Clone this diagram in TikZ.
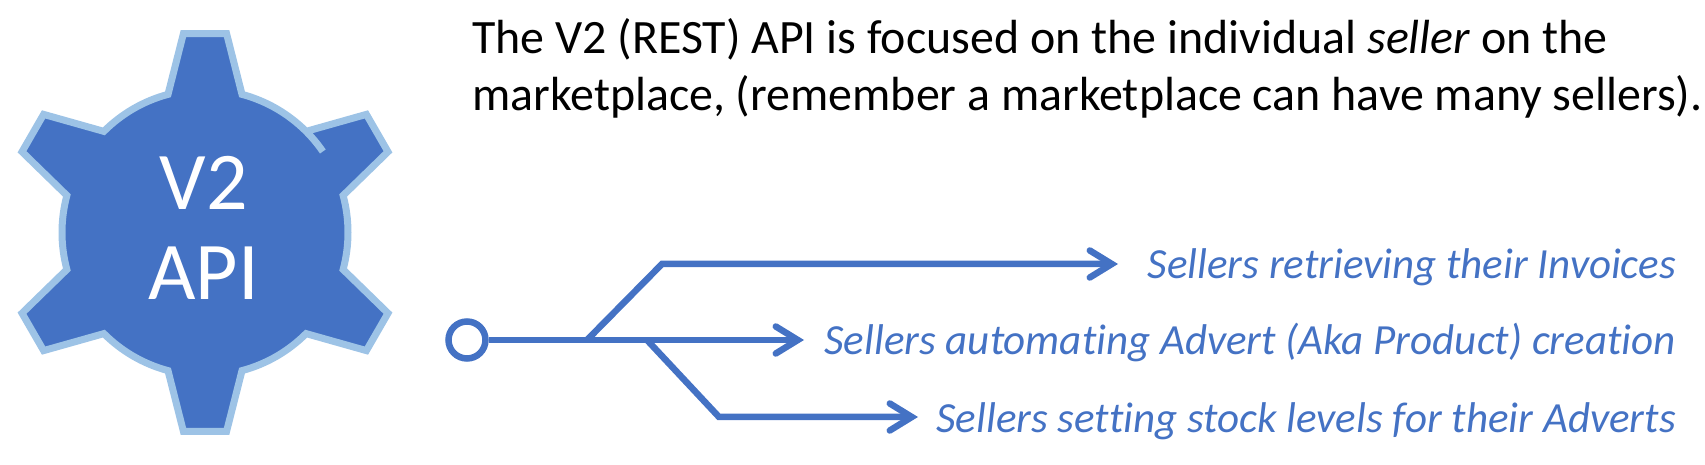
\documentclass[tikz,border=0pt]{standalone}
\usepackage{fontspec}
\setmainfont[Ligatures=NoCommon]{Carlito}
\usetikzlibrary{arrows.meta}
\definecolor{gearblue}{HTML}{4472C4}
\definecolor{gearedge}{HTML}{9DC3E6}
\tikzset{
  gearshape/.style={fill=gearblue,draw=gearedge,line width=7pt,line join=miter,miter limit=10},
  geartext/.style={text=white,font=\fontsize{82}{90}\selectfont,anchor=base,inner sep=0pt},
  leadtext/.style={text=black,font=\fontsize{47.9}{56}\selectfont,anchor=base west,inner sep=0pt},
  itemtext/.style={text=gearblue,font=\fontsize{43}{50}\selectfont\itshape,anchor=base east,inner sep=0pt},
  link/.style={draw=gearblue,line width=6.5pt,line join=miter},
  arrowlink/.style={link,-{Straight Barb[length=22pt,width=27pt,line cap=round,line width=6.5pt]},line cap=butt},
  startring/.style={circle,draw=gearblue,line width=6.5pt,fill=white,minimum size=37pt,inner sep=0pt}
}
\begin{document}
\begin{tikzpicture}[x=1pt,y=1pt]
\useasboundingbox (0,0) rectangle (1705,465);
\begin{scope}[shift={(205,232.5)}]
\path[gearshape]
  (45:143pt) -- (36.2:200pt) -- (23.8:200pt) -- (15:143pt)
  arc[start angle=15,end angle=-15,radius=143pt]
  -- (-23.8:200pt) -- (-36.2:200pt) -- (-45:143pt)
  arc[start angle=-45,end angle=-75,radius=143pt]
  -- (-83.8:200pt) -- (-96.2:200pt) -- (-105:143pt)
  arc[start angle=-105,end angle=-135,radius=143pt]
  -- (-143.8:200pt) -- (-156.2:200pt) -- (-165:143pt)
  arc[start angle=-165,end angle=-195,radius=143pt]
  -- (-203.8:200pt) -- (-216.2:200pt) -- (-225:143pt)
  arc[start angle=-225,end angle=-255,radius=143pt]
  -- (-263.8:200pt) -- (-276.2:200pt) -- (-285:143pt)
  arc[start angle=-285,end angle=-325.5,radius=143pt];
\end{scope}
\node[geartext] (v2) at (204,255) {V2};
\node[geartext] (api) at (203.5,165) {API};
\node[leadtext] (l1) at (472,411.7) {The V2 (REST) API is focused on the individual \textit{seller} on the};
\node[leadtext] (l2) at (472,354) {marketplace, (remember a marketplace can have many sellers).};
\node[itemtext] (i1) at (1676,186.7) {Sellers retrieving their Invoices};
\node[itemtext] (i2) at (1676,110) {Sellers automating Advert (Aka Product) creation};
\node[itemtext] (i3) at (1676,32.3) {Sellers setting stock levels for their Adverts};
\node[startring] (ring) at (467,125) {};
\coordinate (tipA) at (1118,201);
\coordinate (tipB) at (804,125);
\coordinate (tipC) at (918,48);
\coordinate (forkA) at (587,125);
\coordinate (bendA) at (662,201);
\coordinate (forkC) at (647,125);
\coordinate (bendC) at (719,48);
\draw[arrowlink] (forkA) -- (bendA) -- (tipA);
\draw[arrowlink] (forkC) -- (bendC) -- (tipC);
\draw[arrowlink] (ring) -- (tipB);
\end{tikzpicture}
\end{document}
